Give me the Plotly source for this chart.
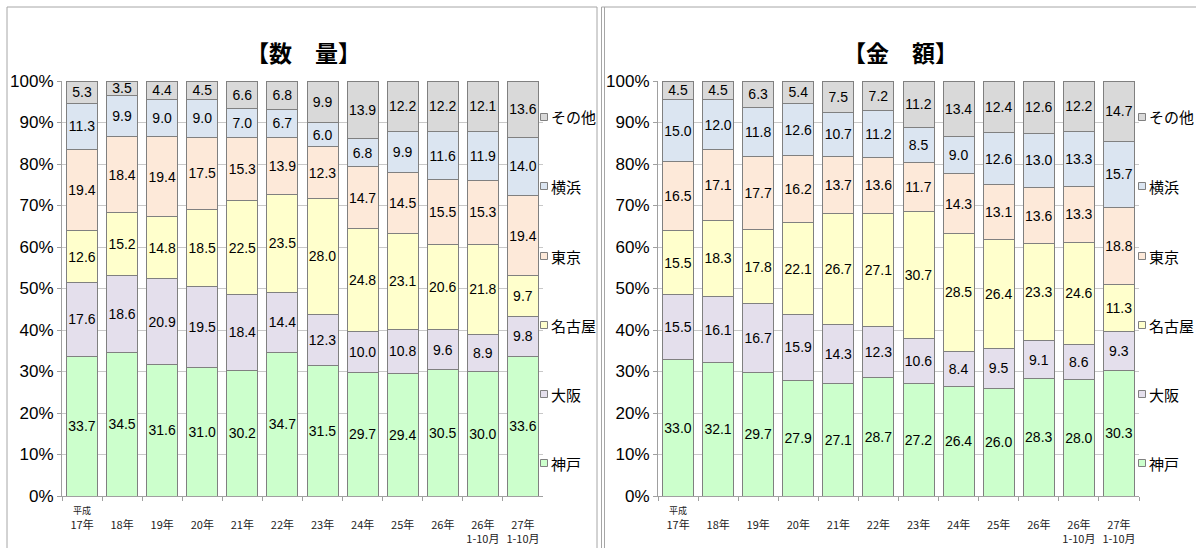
import plotly.graph_objects as go

W, H = 1196, 548

categories = ["17年", "18年", "19年", "20年", "21年", "22年", "23年", "24年", "25年", "26年", "26年1-10月", "27年1-10月"]
tick_labels = ["<span style='font-size:9px'>平成</span><br>17年", " <br>18年", " <br>19年", " <br>20年", " <br>21年",
               " <br>22年", " <br>23年", " <br>24年", " <br>25年", " <br>26年", " <br>26年<br>1-10月", " <br>27年<br>1-10月"]

series_names = ["神戸", "大阪", "名古屋", "東京", "横浜", "その他"]
colors = ["#ccffcc", "#e4dfec", "#ffffcc", "#fde9d9", "#dbe5f1", "#d9d9d9"]

# 数量
qty_kobe = [33.7, 34.5, 31.6, 31.0, 30.2, 34.7, 31.5, 29.7, 29.4, 30.5, 30.0, 33.6]
qty_osaka = [17.6, 18.6, 20.9, 19.5, 18.4, 14.4, 12.3, 10.0, 10.8, 9.6, 8.9, 9.8]
qty_nagoya = [12.6, 15.2, 14.8, 18.5, 22.5, 23.5, 28.0, 24.8, 23.1, 20.6, 21.8, 9.7]
qty_tokyo = [19.4, 18.4, 19.4, 17.5, 15.3, 13.9, 12.3, 14.7, 14.5, 15.5, 15.3, 19.4]
qty_yokohama = [11.3, 9.9, 9.0, 9.0, 7.0, 6.7, 6.0, 6.8, 9.9, 11.6, 11.9, 14.0]
qty_other = [5.3, 3.5, 4.4, 4.5, 6.6, 6.8, 9.9, 13.9, 12.2, 12.2, 12.1, 13.6]

# 金額
amt_kobe = [33.0, 32.1, 29.7, 27.9, 27.1, 28.7, 27.2, 26.4, 26.0, 28.3, 28.0, 30.3]
amt_osaka = [15.5, 16.1, 16.7, 15.9, 14.3, 12.3, 10.6, 8.4, 9.5, 9.1, 8.6, 9.3]
amt_nagoya = [15.5, 18.3, 17.8, 22.1, 26.7, 27.1, 30.7, 28.5, 26.4, 23.3, 24.6, 11.3]
amt_tokyo = [16.5, 17.1, 17.7, 16.2, 13.7, 13.6, 11.7, 14.3, 13.1, 13.6, 13.3, 18.8]
amt_yokohama = [15.0, 12.0, 11.8, 12.6, 10.7, 11.2, 8.5, 9.0, 12.6, 13.0, 13.3, 15.7]
amt_other = [4.5, 4.5, 6.3, 5.4, 7.5, 7.2, 11.2, 13.4, 12.4, 12.6, 12.2, 14.7]

y_ticks = list(range(0, 101, 10))
y_tick_labels = [f"{v}%" for v in y_ticks]

qty_series = [qty_kobe, qty_osaka, qty_nagoya, qty_tokyo, qty_yokohama, qty_other]
amt_series = [amt_kobe, amt_osaka, amt_nagoya, amt_tokyo, amt_yokohama, amt_other]

FONT = "Liberation Sans, Arial, Noto Sans CJK JP"
JFONT = "Noto Sans CJK JP, Liberation Sans"

fig = go.Figure()
for panel, (series, xa, ya) in enumerate([(qty_series, "x", "y"), (amt_series, "x2", "y2")]):
    for name, vals, col in zip(series_names, series, colors):
        fig.add_trace(go.Bar(
            x=categories, y=vals, name=name, xaxis=xa, yaxis=ya,
            marker=dict(color=col, line=dict(color="#808080", width=1)),
            text=[f"{v:.1f}" for v in vals], texttemplate="%{text}",
            textposition="inside", insidetextanchor="middle", textangle=0,
            textfont=dict(family=FONT, size=14, color="#000000"),
            showlegend=False, hoverinfo="skip",
        ))

def px_x(p):
    return p / W

def px_y(p):
    return 1 - p / H

xdom1 = [px_x(62), px_x(543)]
xdom2 = [px_x(658), px_x(1139)]
ydom = [px_y(496), px_y(81)]

xaxis_common = dict(
    type="category", showline=True, linecolor="#a0a0a0", linewidth=1,
    ticks="outside", tickson="boundaries", ticklen=4, tickcolor="#a0a0a0",
    tickvals=categories, ticktext=tick_labels, tickangle=0, automargin=False,
    ticklabelstandoff=4,
    tickfont=dict(family=JFONT, size=11, color="#222222"),
    showgrid=False, fixedrange=True,
)
yaxis_common = dict(
    range=[0, 100], tickvals=y_ticks, ticktext=y_tick_labels, automargin=False,
    showline=True, linecolor="#a0a0a0", linewidth=1,
    ticks="outside", ticklen=4, tickcolor="#a0a0a0",
    showgrid=True, gridcolor="#c8c8c8", gridwidth=1,
    tickfont=dict(family=FONT, size=17, color="#000000"),
    zeroline=False, fixedrange=True,
)

fig.update_layout(
    width=W, height=H, margin=dict(l=0, r=0, t=0, b=0, autoexpand=False),
    paper_bgcolor="white", plot_bgcolor="white",
    barmode="stack", barnorm="percent", bargap=0.225,
    uniformtext=dict(minsize=14, mode="show"),
    xaxis=dict(domain=xdom1, anchor="y", **xaxis_common),
    yaxis=dict(domain=ydom, anchor="x", **yaxis_common),
    xaxis2=dict(domain=xdom2, anchor="y2", **xaxis_common),
    yaxis2=dict(domain=ydom, anchor="x2", **yaxis_common),
    showlegend=False,
)

# panel titles
annotations = [
    dict(text="<b>【数　量】</b>", x=px_x(303), y=px_y(52), xref="paper", yref="paper",
         xanchor="center", yanchor="middle",
         showarrow=False, font=dict(family=JFONT, size=23, color="#000000")),
    dict(text="<b>【金　額】</b>", x=px_x(900), y=px_y(52), xref="paper", yref="paper",
         xanchor="center", yanchor="middle",
         showarrow=False, font=dict(family=JFONT, size=23, color="#000000")),
]
shapes = [
    dict(type="rect", xref="paper", yref="paper", x0=px_x(7), x1=px_x(597), y0=-0.1, y1=px_y(7),
         line=dict(color="#a6a6a6", width=1), fillcolor="rgba(0,0,0,0)", layer="below"),
    dict(type="rect", xref="paper", yref="paper", x0=px_x(601.5), x1=1.1, y0=-0.1, y1=px_y(7),
         line=dict(color="#a6a6a6", width=1), fillcolor="rgba(0,0,0,0)", layer="below"),
    dict(type="line", xref="paper", yref="paper", x0=px_x(604.5), x1=px_x(604.5), y0=-0.1, y1=px_y(7),
         line=dict(color="#a6a6a6", width=1)),
]

# legend entries (right of each plot), top = その他
legend_y = [463, 394, 325, 256, 186, 117]
for lx in (544, 1142):
    for name, col, ly in zip(series_names, colors, legend_y):
        shapes.append(dict(type="rect", xref="paper", yref="paper",
                           x0=px_x(lx - 3.5), x1=px_x(lx + 3.5), y0=px_y(ly + 3.5), y1=px_y(ly - 3.5),
                           line=dict(color="#808080", width=1), fillcolor=col))
        annotations.append(dict(text=name, x=px_x(lx + 5), y=px_y(ly), xref="paper", yref="paper",
                                xanchor="left", yanchor="middle", showarrow=False,
                                font=dict(family=JFONT, size=15, color="#000000")))

fig.update_layout(annotations=annotations, shapes=shapes)

fig.write_html("out.html")
